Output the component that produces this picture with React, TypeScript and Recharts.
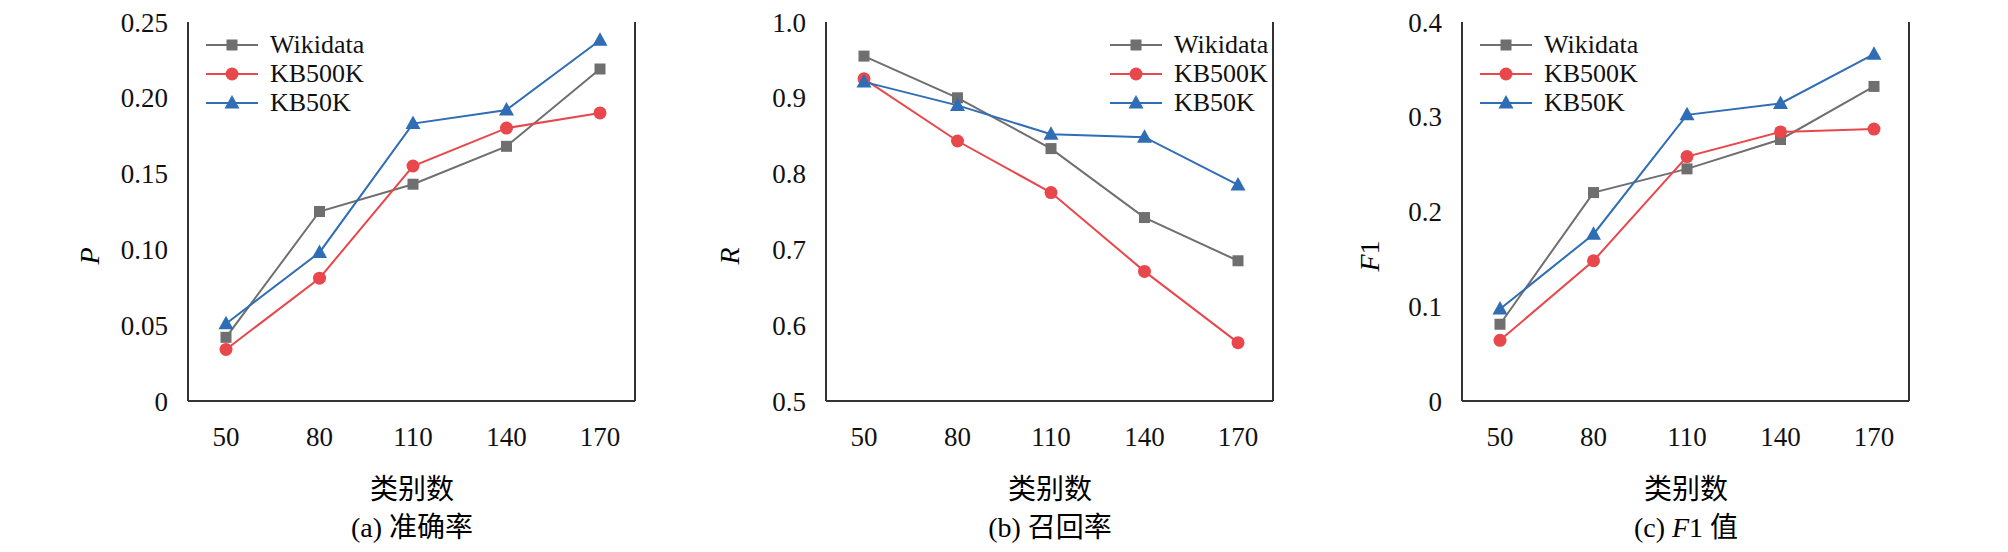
import React from "react";
import { LineChart, Line, XAxis, YAxis } from "recharts";

const categories = ["50", "80", "110", "140", "170"];

const pWikidata = [0.042, 0.125, 0.143, 0.168, 0.219];
const pKB500K = [0.034, 0.081, 0.155, 0.18, 0.19];
const pKB50K = [0.051, 0.098, 0.183, 0.192, 0.238];

const rWikidata = [0.955, 0.9, 0.833, 0.742, 0.685];
const rKB500K = [0.925, 0.843, 0.775, 0.671, 0.577];
const rKB50K = [0.921, 0.89, 0.852, 0.848, 0.785];

const fWikidata = [0.081, 0.22, 0.245, 0.276, 0.332];
const fKB500K = [0.064, 0.148, 0.258, 0.284, 0.287];
const fKB50K = [0.097, 0.176, 0.302, 0.314, 0.366];

const pTicks = [0, 0.05, 0.1, 0.15, 0.2, 0.25];
const rTicks = [0.5, 0.6, 0.7, 0.8, 0.9, 1.0];
const fTicks = [0, 0.1, 0.2, 0.3, 0.4];

const FONT = '"Liberation Serif", "Noto Sans CJK SC", serif';
const GRAY = "#6f6f6f";
const RED = "#e8474c";
const BLUE = "#2f6db5";

const series = [
  { key: "w", name: "Wikidata", color: GRAY, shape: "square" },
  { key: "k5", name: "KB500K", color: RED, shape: "circle" },
  { key: "k50", name: "KB50K", color: BLUE, shape: "triangle" },
];

function Marker({ cx, cy, shape, color }: any) {
  if (cx == null || cy == null) return null;
  if (shape === "square") return <rect x={cx - 5.5} y={cy - 5.5} width={11} height={11} fill={color} />;
  if (shape === "circle") return <circle cx={cx} cy={cy} r={6.5} fill={color} />;
  return <polygon points={`${cx},${cy - 8} ${cx - 7.5},${cy + 5.5} ${cx + 7.5},${cy + 5.5}`} fill={color} />;
}

function LegendBox() {
  return (
    <div style={{ fontFamily: FONT, fontSize: 26, lineHeight: "29px", color: "#111" }}>
      {series.map((s) => (
        <div key={s.key} style={{ display: "flex", alignItems: "center" }}>
          <svg width={52} height={20} style={{ marginRight: 12 }}>
            <line x1={0} y1={10} x2={52} y2={10} stroke={s.color} strokeWidth={2} />
            <Marker cx={26} cy={10} shape={s.shape} color={s.color} />
          </svg>
          <span>{s.name}</span>
        </div>
      ))}
    </div>
  );
}

function build(a: number[], b: number[], c: number[]) {
  return categories.map((cat, i) => ({ cat, w: a[i], k5: b[i], k50: c[i] }));
}

function Panel({ left, yWidth, data, ticks, domain, fmt, legendPos, ylabel, caption }: any) {
  const tickStyle = { fontFamily: FONT, fontSize: 27, fill: "#111" };
  return (
    <div style={{ position: "absolute", left, top: 0, width: 680, height: 552 }}>
      <LineChart width={680} height={552} data={data} margin={{ top: 22, right: 680 - yWidth - 448, bottom: 0, left: 0 }}>
        <XAxis dataKey="cat" height={151} padding={{ left: 38, right: 35 }} tick={tickStyle} tickLine={false}
          tickMargin={20} axisLine={{ stroke: "#333", strokeWidth: 2 }} />
        <XAxis xAxisId="top" dataKey="cat" orientation="top" height={0} tick={false} tickLine={false}
          axisLine={{ stroke: "#333", strokeWidth: 2 }} />
        <YAxis width={yWidth} domain={domain} ticks={ticks} tickFormatter={fmt} tick={tickStyle} tickLine={false}
          tickMargin={14} axisLine={{ stroke: "#333", strokeWidth: 2 }} interval={0} />
        <YAxis yAxisId="r" orientation="right" width={1} domain={domain} tick={false} tickLine={false}
          axisLine={{ stroke: "#333", strokeWidth: 2 }} />
        {series.map((s) => (
          <Line key={s.key} dataKey={s.key} name={s.name} stroke={s.color} strokeWidth={2} isAnimationActive={false}
            dot={(p: any) => <Marker key={p.index} cx={p.cx} cy={p.cy} shape={s.shape} color={s.color} />} />
        ))}
      </LineChart>
      <div style={{ position: "absolute", top: 30, left: legendPos }}>
        <LegendBox />
      </div>
      <div style={{ position: "absolute", left: 60, top: 240, width: 60, textAlign: "center", transform: "rotate(-90deg)",
        fontFamily: FONT, fontSize: 28 }}>{ylabel}</div>
      <div style={{ position: "absolute", left: yWidth, width: 448, top: 467, textAlign: "center", fontFamily: FONT, fontSize: 28 }}>类别数</div>
      <div style={{ position: "absolute", left: yWidth, width: 448, top: 505, textAlign: "center", fontFamily: FONT, fontSize: 28 }}>{caption}</div>
    </div>
  );
}

export default function App() {
  const two = (v: number) => (v === 0 ? "0" : v.toFixed(2));
  const one = (v: number) => (v === 0 ? "0" : v.toFixed(1));
  return (
    <div style={{ position: "absolute", left: 0, top: 0, width: 2008, height: 552, background: "#fff" }}>
      <Panel left={0} yWidth={188} data={build(pWikidata, pKB500K, pKB50K)} ticks={pTicks} domain={[0, 0.25]} fmt={two}
        legendPos={206} ylabel={<i>P</i>} caption="(a) 准确率" />
      <Panel left={640} yWidth={186} data={build(rWikidata, rKB500K, rKB50K)} ticks={rTicks} domain={[0.5, 1.0]} fmt={one}
        legendPos={470} ylabel={<i>R</i>} caption="(b) 召回率" />
      <Panel left={1280} yWidth={182} data={build(fWikidata, fKB500K, fKB50K)} ticks={fTicks} domain={[0, 0.4]} fmt={one}
        legendPos={200} ylabel={<span><i>F</i>1</span>} caption={<span>(c) <i>F</i>1 值</span>} />
    </div>
  );
}
